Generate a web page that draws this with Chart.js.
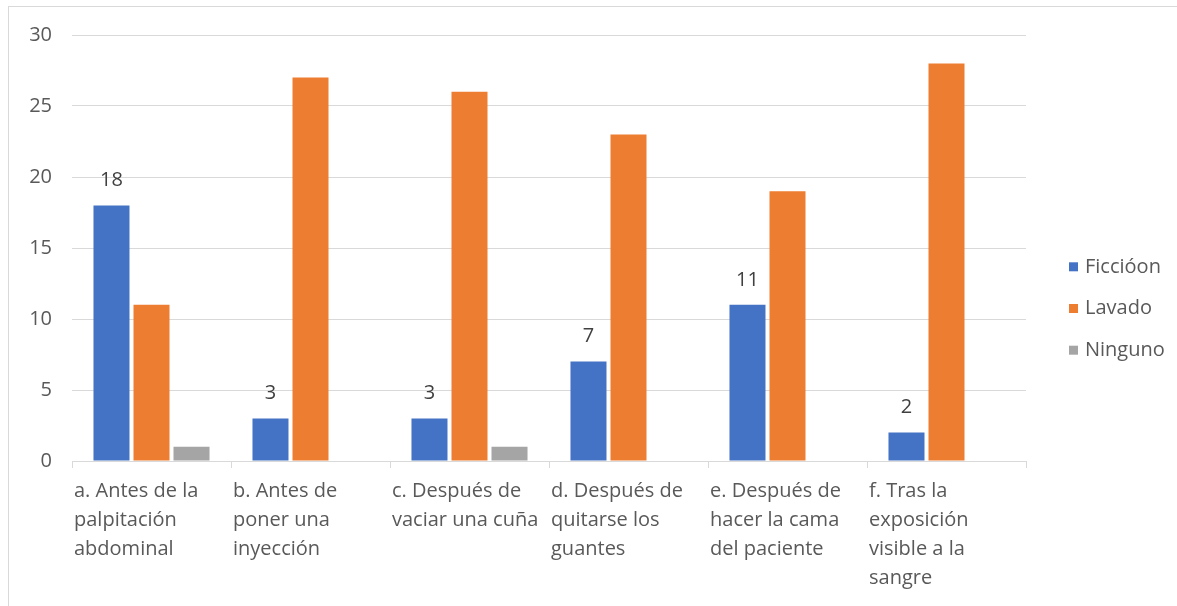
<!DOCTYPE html>
<html>
<head>
<meta charset="utf-8">
<script src="https://cdn.jsdelivr.net/npm/chart.js@4/dist/chart.umd.min.js"></script>
<style>
  html, body { margin: 0; padding: 0; background: #fff; overflow: hidden; }
  .frame {
    position: absolute; left: 8px; top: 6px;
    width: 1200px; height: 700px;
    border: 1px solid #d9d9d9; background: #fff;
  }
  canvas { position: absolute; left: 0; top: 0; }
</style>
</head>
<body>
<div class="frame">
  <canvas id="chart" width="1168" height="599"></canvas>
</div>
<script>
const categories = [
  ["a. Antes de la", "palpitación", "abdominal"],
  ["b. Antes de", "poner una", "inyección"],
  ["c. Después de", "vaciar una cuña"],
  ["d. Después de", "quitarse los", "guantes"],
  ["e. Después de", "hacer la cama", "del paciente"],
  ["f. Tras la", "exposición", "visible a la", "sangre"]
];
const seriesNames = ["Ficcióon", "Lavado", "Ninguno"];
const friccion = [18, 3, 3, 7, 11, 2];
const lavado = [11, 27, 26, 23, 19, 28];
const ninguno = [1, 0, 1, 0, 0, 0];
const yTicks = [0, 5, 10, 15, 20, 25, 30];

const colors = ["#4472C4", "#ED7D31", "#A5A5A5"];
const FONT = "'Open Sans', 'Noto Sans', sans-serif";
const TEXT = "#595959";

// value labels above the first series only
const valueLabels = {
  id: "valueLabels",
  afterDatasetsDraw(chart) {
    const ctx = chart.ctx;
    const meta = chart.getDatasetMeta(0);
    ctx.save();
    ctx.font = "20px " + FONT;
    ctx.fillStyle = "#404040";
    ctx.textAlign = "center";
    ctx.textBaseline = "middle";
    meta.data.forEach((bar, i) => {
      ctx.fillText(String(friccion[i]), bar.x, bar.y - 25);
    });
    ctx.restore();
  }
};

// legend on the right, centred on the canvas height
const sideLegend = {
  id: "sideLegend",
  afterDraw(chart) {
    const ctx = chart.ctx;
    const x = chart.chartArea.right + 43;
    const mid = chart.height / 2 + 2;
    const step = 41.7;
    ctx.save();
    ctx.font = "20px " + FONT;
    ctx.textBaseline = "middle";
    ctx.textAlign = "left";
    chart.data.datasets.forEach((ds, i) => {
      const cy = mid + (i - 1) * step;
      ctx.fillStyle = ds.backgroundColor;
      ctx.fillRect(x, cy - 4.5, 9, 9);
      ctx.fillStyle = TEXT;
      ctx.fillText(ds.label, x + 16, cy);
    });
    ctx.restore();
  }
};

new Chart(document.getElementById("chart"), {
  type: "bar",
  data: {
    labels: categories,
    datasets: [
      { label: seriesNames[0], data: friccion, backgroundColor: colors[0] },
      { label: seriesNames[1], data: lavado, backgroundColor: colors[1] },
      { label: seriesNames[2], data: ninguno, backgroundColor: colors[2] }
    ]
  },
  options: {
    responsive: false,
    animation: false,
    devicePixelRatio: 1,
    categoryPercentage: 0.755,
    barPercentage: 0.9,
    layout: { padding: { left: 0, top: 28, right: 151, bottom: 0 } },
    plugins: {
      legend: { display: false },
      tooltip: { enabled: false }
    },
    scales: {
      x: {
        grid: {
          offset: true,
          drawOnChartArea: false,
          drawTicks: true,
          tickLength: 7,
          color: "#d9d9d9"
        },
        border: { color: "#d9d9d9" },
        ticks: {
          align: "start",
          labelOffset: -77.5,
          padding: 9,
          maxRotation: 0,
          autoSkip: false,
          color: TEXT,
          font: { family: FONT, size: 20, lineHeight: "29px" }
        },
        afterFit(scale) { scale.height = 145; }
      },
      y: {
        min: 0,
        max: 30,
        afterBuildTicks(scale) { scale.ticks = yTicks.map(v => ({ value: v })); },
        grid: { color: "#d9d9d9", drawTicks: false },
        border: { display: false },
        ticks: {
          padding: 20,
          color: TEXT,
          font: { family: FONT, size: 20 }
        },
        afterFit(scale) {
          scale.width = 63;
          scale.paddingTop = 0;
          scale.paddingBottom = 0;
        }
      }
    }
  },
  plugins: [valueLabels, sideLegend]
});
</script>
</body>
</html>
